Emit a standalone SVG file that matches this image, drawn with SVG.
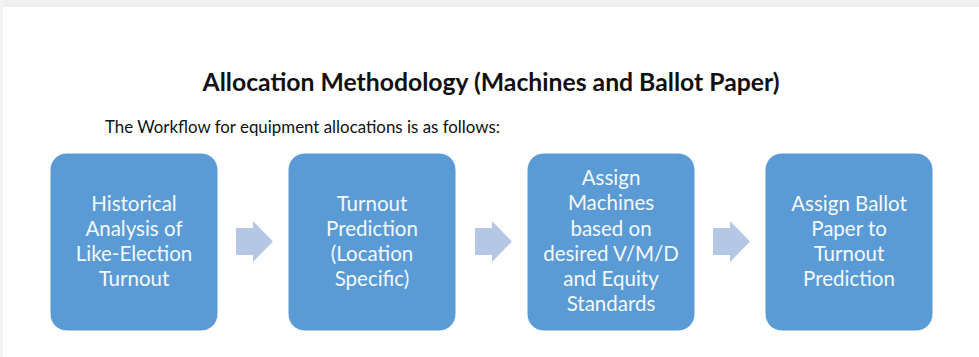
<svg xmlns="http://www.w3.org/2000/svg" width="979" height="357" viewBox="0 0 979 357">
<style>
.box{fill:#5b9bd5;stroke:#ffffff;stroke-width:1}
.lbl{font-family:Lato,"Open Sans","Liberation Sans",sans-serif;font-size:20.5px;fill:#f4f8fc;text-anchor:middle}
.arr{fill:#b4c8e6}
.title{font-family:Lato,"Open Sans","Liberation Sans",sans-serif;font-size:24.5px;font-weight:bold;fill:#111111;text-anchor:middle}
.sub{font-family:Lato,"Open Sans","Liberation Sans",sans-serif;font-size:16.5px;fill:#111111}
</style>
<rect x="0" y="0" width="979" height="357" fill="#ffffff"/>
<rect x="0" y="0" width="979" height="7" fill="#efefef"/>
<rect x="0" y="0" width="3" height="357" fill="#f3f3f3"/>
<text class="title" x="491" y="91" textLength="577" lengthAdjust="spacingAndGlyphs">Allocation Methodology (Machines and Ballot Paper)</text>
<text class="sub" x="105" y="133" textLength="395" lengthAdjust="spacingAndGlyphs">The Workflow for equipment allocations is as follows:</text>
<g id="connectors">
<polygon class="arr" points="236,228 253,228 253,221 273,241.5 253,262 253,255 236,255"/>
<polygon class="arr" points="475,228 492,228 492,221 512,241.5 492,262 492,255 475,255"/>
<polygon class="arr" points="713,228 730,228 730,221 750,241.5 730,262 730,255 713,255"/>
</g>
<g id="n1">
<rect class="box" x="50" y="153" width="168" height="178" rx="17"/>
<text class="lbl" x="134" y="211">Historical</text>
<text class="lbl" x="134" y="236">Analysis of</text>
<text class="lbl" x="134" y="261">Like-Election</text>
<text class="lbl" x="134" y="286">Turnout</text>
</g>
<g id="n2">
<rect class="box" x="288" y="153" width="168" height="178" rx="17"/>
<text class="lbl" x="372" y="211">Turnout</text>
<text class="lbl" x="372" y="236">Prediction</text>
<text class="lbl" x="372" y="261">(Location</text>
<text class="lbl" x="372" y="286">Specific)</text>
</g>
<g id="n3">
<rect class="box" x="527" y="153" width="168" height="178" rx="17"/>
<text class="lbl" x="611" y="185">Assign</text>
<text class="lbl" x="611" y="210">Machines</text>
<text class="lbl" x="611" y="236">based on</text>
<text class="lbl" x="611" y="261">desired V/M/D</text>
<text class="lbl" x="611" y="286">and Equity</text>
<text class="lbl" x="611" y="311">Standards</text>
</g>
<g id="n4">
<rect class="box" x="765" y="153" width="168" height="178" rx="17"/>
<text class="lbl" x="849" y="211">Assign Ballot</text>
<text class="lbl" x="849" y="236">Paper to</text>
<text class="lbl" x="849" y="261">Turnout</text>
<text class="lbl" x="849" y="286">Prediction</text>
</g>
</svg>
